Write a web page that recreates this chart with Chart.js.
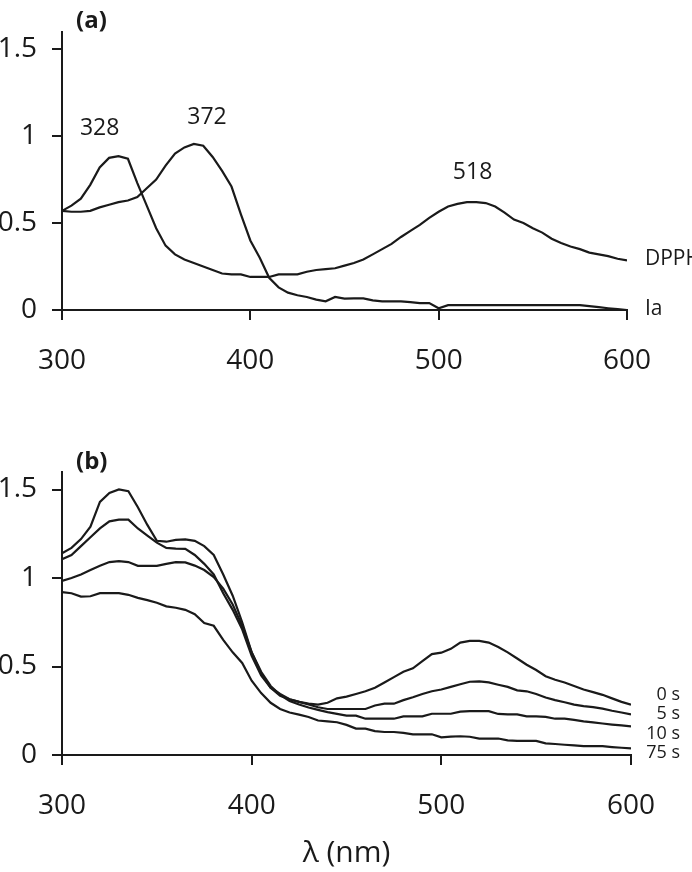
<!DOCTYPE html>
<html>
<head>
<meta charset="utf-8">
<script src="https://cdn.jsdelivr.net/npm/chart.js@4/dist/chart.umd.min.js"></script>
<style>
  html, body { margin: 0; padding: 0; background: #fff; }
  .box { position: absolute; left: 0; width: 692px; }
  #boxA { top: 0; height: 400px; }
  #boxB { top: 440px; height: 432px; }
</style>
</head>
<body>
<div class="box" id="boxA"><canvas id="chartA" width="692" height="400"></canvas></div>
<div class="box" id="boxB"><canvas id="chartB" width="692" height="432"></canvas></div>
<script>
// ============================================
// DATA
// ============================================
const wavelengths = [];
for (let w = 300; w <= 600; w += 5) wavelengths.push(w);

const yTicks = [0, 0.5, 1, 1.5];
const xTicks = [300, 400, 500, 600];

// (a) spectra
const dpph = [
  0.57, 0.60, 0.64, 0.72, 0.82, 0.875, 0.885, 0.87, 0.73, 0.60,
  0.47, 0.37, 0.32, 0.29, 0.27, 0.25, 0.23, 0.21, 0.205, 0.205,
  0.19, 0.19, 0.19, 0.205, 0.205, 0.205, 0.22, 0.23, 0.235, 0.24,
  0.255, 0.27, 0.29, 0.32, 0.35, 0.38, 0.42, 0.455, 0.49, 0.53,
  0.565, 0.595, 0.61, 0.62, 0.62, 0.615, 0.595, 0.56, 0.52, 0.50,
  0.47, 0.445, 0.41, 0.385, 0.365, 0.35, 0.33, 0.32, 0.31, 0.295,
  0.285
];
const ia = [
  0.57, 0.565, 0.565, 0.57, 0.59, 0.605, 0.62, 0.63, 0.65, 0.70,
  0.75, 0.83, 0.90, 0.935, 0.955, 0.945, 0.88, 0.80, 0.71, 0.55,
  0.40, 0.30, 0.185, 0.13, 0.10, 0.085, 0.075, 0.06, 0.05, 0.075,
  0.065, 0.067, 0.067, 0.055, 0.05, 0.05, 0.05, 0.045, 0.04, 0.04,
  0.01, 0.028, 0.028, 0.028, 0.028, 0.028, 0.028, 0.028, 0.028, 0.028,
  0.028, 0.028, 0.028, 0.028, 0.028, 0.028, 0.022, 0.016, 0.01, 0.005,
  0.0
];
const peakNotes = [
  { text: '328', x: 320, y: 1.044 },
  { text: '372', x: 377, y: 1.105 },
  { text: '518', x: 518, y: 0.789 },
];

// (b) DPPH + Ia over time
const t0 = [
  1.14, 1.17, 1.22, 1.29, 1.43, 1.48, 1.50, 1.49, 1.40, 1.30,
  1.21, 1.205, 1.215, 1.218, 1.21, 1.18, 1.13, 1.02, 0.90, 0.75,
  0.58, 0.46, 0.38, 0.345, 0.315, 0.30, 0.29, 0.285, 0.295, 0.32,
  0.33, 0.345, 0.36, 0.38, 0.41, 0.44, 0.47, 0.49, 0.53, 0.57,
  0.578, 0.60, 0.635, 0.645, 0.645, 0.635, 0.61, 0.58, 0.545, 0.51,
  0.48, 0.445, 0.425, 0.41, 0.39, 0.37, 0.355, 0.34, 0.32, 0.30,
  0.284
];
const t5 = [
  1.106, 1.13, 1.18, 1.23, 1.28, 1.32, 1.33, 1.33, 1.28, 1.24,
  1.20, 1.17, 1.166, 1.165, 1.13, 1.08, 1.02, 0.914, 0.82, 0.71,
  0.56, 0.45, 0.38, 0.335, 0.315, 0.30, 0.285, 0.27, 0.26, 0.26,
  0.26, 0.26, 0.26, 0.28, 0.29, 0.29, 0.31, 0.326, 0.345, 0.36,
  0.37, 0.385, 0.40, 0.414, 0.416, 0.41, 0.397, 0.385, 0.365, 0.36,
  0.345, 0.325, 0.31, 0.298, 0.285, 0.276, 0.27, 0.262, 0.25, 0.24,
  0.229
];
const t10 = [
  0.983, 1.0, 1.02, 1.045, 1.069, 1.09, 1.095, 1.09, 1.069, 1.069,
  1.069, 1.08, 1.09, 1.088, 1.07, 1.045, 1.005, 0.94, 0.85, 0.73,
  0.58, 0.47, 0.39, 0.34, 0.305, 0.285, 0.268, 0.255, 0.242, 0.232,
  0.222, 0.222, 0.205, 0.205, 0.205, 0.205, 0.218, 0.218, 0.218, 0.233,
  0.233, 0.233, 0.245, 0.248, 0.248, 0.248, 0.232, 0.229, 0.229, 0.218,
  0.218, 0.215, 0.205, 0.205, 0.198, 0.19, 0.184, 0.178, 0.172, 0.167,
  0.162
];
const t75 = [
  0.92, 0.914, 0.895, 0.897, 0.914, 0.914, 0.914, 0.905, 0.888, 0.875,
  0.86, 0.84, 0.832, 0.82, 0.795, 0.745, 0.73, 0.65, 0.58, 0.52,
  0.42, 0.35, 0.295, 0.26, 0.24, 0.228, 0.215, 0.195, 0.19, 0.185,
  0.17, 0.149, 0.149, 0.135, 0.13, 0.13, 0.125, 0.117, 0.117, 0.117,
  0.10, 0.104, 0.106, 0.103, 0.093, 0.093, 0.093, 0.083, 0.08, 0.08,
  0.08, 0.066, 0.062, 0.058, 0.054, 0.05, 0.05, 0.05, 0.045, 0.041,
  0.037
];

// ============================================
// HELPERS / PLUGINS
// ============================================
const FONT = "'Open Sans', 'Noto Sans', sans-serif";
const INK = '#1a1a1a';

function series(label, values) {
  return {
    label,
    data: wavelengths.map((w, i) => ({ x: w, y: values[i] })),
    borderColor: INK,
    borderWidth: 2.2,
    pointRadius: 0,
    tension: 0,
    fill: false,
  };
}

// panel letter "(a)" / "(b)" top-left of the axis
const panelLabel = {
  id: 'panelLabel',
  afterDraw(chart, args, opts) {
    const { ctx, chartArea } = chart;
    ctx.save();
    ctx.font = `bold 24px ${FONT}`;
    ctx.fillStyle = INK;
    ctx.textAlign = 'left';
    ctx.textBaseline = 'middle';
    ctx.fillText(opts.text, chartArea.left + 14, chartArea.top + opts.dy);
    ctx.restore();
  },
};

// series names at the right end of each curve
const endLabels = {
  id: 'endLabels',
  afterDraw(chart, args, opts) {
    const { ctx, chartArea } = chart;
    const n = chart.data.datasets.length;
    ctx.save();
    ctx.font = `${opts.size}px ${FONT}`;
    ctx.fillStyle = INK;
    ctx.textBaseline = 'middle';
    chart.data.datasets.forEach((ds, i) => {
      const pts = chart.getDatasetMeta(i).data;
      const last = pts[pts.length - 1];
      if (opts.stacked) {
        // evenly stacked from the x axis upward, right aligned
        ctx.textAlign = 'right';
        const rank = n - 1 - i;
        ctx.fillText(ds.label, chartArea.right + 49, chartArea.bottom - 2 - rank * 19.5);
      } else {
        ctx.textAlign = 'left';
        ctx.fillText(ds.label, last.x + 18, last.y - 1);
      }
    });
    ctx.restore();
  },
};

// peak wavelength notes placed in data units
const peakText = {
  id: 'peakText',
  afterDraw(chart, args, opts) {
    if (!opts.notes) return;
    const { ctx, scales } = chart;
    ctx.save();
    ctx.font = `23px ${FONT}`;
    ctx.fillStyle = INK;
    ctx.textAlign = 'center';
    ctx.textBaseline = 'middle';
    opts.notes.forEach(n => {
      ctx.fillText(n.text, scales.x.getPixelForValue(n.x), scales.y.getPixelForValue(n.y));
    });
    ctx.restore();
  },
};

function makeOptions(cfg) {
  return {
    responsive: false,
    animation: false,
    layout: { padding: { left: 0, right: cfg.rightPad, top: cfg.topPad, bottom: 0 } },
    plugins: {
      legend: { display: false },
      tooltip: { enabled: false },
      panelLabel: { text: cfg.panel, dy: cfg.panelDy },
      endLabels: { size: cfg.endSize, stacked: cfg.stacked },
      peakText: { notes: cfg.notes },
    },
    scales: {
      x: {
        type: 'linear',
        min: 300,
        max: 600,
        afterBuildTicks: s => { s.ticks = xTicks.map(v => ({ value: v })); },
        afterFit: s => { s.height = cfg.xHeight; },
        grid: { drawOnChartArea: false, drawTicks: true, tickLength: 10, color: INK, lineWidth: 2 },
        border: { display: true, color: INK, width: 2 },
        ticks: { color: INK, padding: 24, maxRotation: 0, font: { family: FONT, size: 28 } },
        title: cfg.xTitle
          ? { display: true, text: cfg.xTitle, color: INK, padding: { top: 0, bottom: 1 }, font: { family: FONT, size: 30 } }
          : { display: false },
      },
      y: {
        min: 0,
        max: 1.6,
        afterBuildTicks: s => { s.ticks = yTicks.map(v => ({ value: v })); },
        afterFit: s => { s.width = 62; },
        grid: { drawOnChartArea: false, drawTicks: true, tickLength: 10, color: INK, lineWidth: 2 },
        border: { display: true, color: INK, width: 2 },
        ticks: { color: INK, padding: 15, font: { family: FONT, size: 28 }, callback: v => String(v) },
      },
    },
  };
}

// ============================================
// CHARTS
// ============================================
new Chart(document.getElementById('chartA'), {
  type: 'line',
  data: { datasets: [series('DPPH', dpph), series('Ia', ia)] },
  options: makeOptions({
    rightPad: 65, topPad: 22, xHeight: 90, panel: '(a)', panelDy: -11,
    endSize: 21, stacked: false, notes: peakNotes, xTitle: null,
  }),
  plugins: [panelLabel, endLabels, peakText],
});

new Chart(document.getElementById('chartB'), {
  type: 'line',
  data: { datasets: [series('0 s', t0), series('5 s', t5), series('10 s', t10), series('75 s', t75)] },
  options: makeOptions({
    rightPad: 61, topPad: 30, xHeight: 117, panel: '(b)', panelDy: -10,
    endSize: 18, stacked: true, notes: null, xTitle: 'λ (nm)',
  }),
  plugins: [panelLabel, endLabels, peakText],
});
</script>
</body>
</html>
